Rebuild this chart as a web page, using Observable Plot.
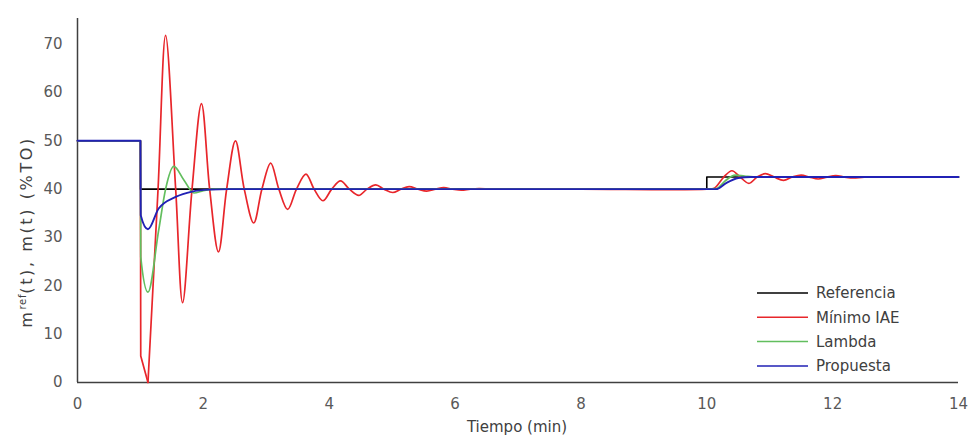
<!DOCTYPE html>
<html>
<head>
<meta charset="utf-8">
<script src="https://cdn.jsdelivr.net/npm/d3@7"></script>
<script src="https://cdn.jsdelivr.net/npm/@observablehq/plot@0.6"></script>
<style>
  html, body { margin: 0; padding: 0; background: #fff; }
  #chart { width: 970px; height: 437px; }
</style>
</head>
<body>
<div id="chart"></div>
<script>
// ---- Data ----
const xTicks = [0, 2, 4, 6, 8, 10, 12, 14];
const yTicks = [0, 10, 20, 30, 40, 50, 60, 70];
const seriesNames = ["Referencia", "Mínimo IAE", "Lambda", "Propuesta"];
const seriesColors = ["#000000", "#E8262B", "#62BE5E", "#2121B5"];

const refT = [0, 1, 1.0001, 10, 10.0001, 14];
const refV = [50, 50, 40, 40, 42.5, 42.5];

// Mínimo IAE: initial step (drawn straight) and oscillation (smooth)
const iaeStepT = [0, 1, 1.005, 1.12];
const iaeStepV = [50, 50, 5.5, 0];
const iaeT = [1.12, 1.28, 1.40, 1.56, 1.67, 1.82, 1.97, 2.10, 2.24, 2.37, 2.51, 2.65, 2.80, 2.93, 3.07, 3.20, 3.34, 3.48, 3.63, 3.76, 3.90, 4.04, 4.18, 4.32, 4.47, 4.60, 4.74, 4.87, 5.01, 5.14, 5.27, 5.41, 5.55, 5.69, 5.82, 5.96, 6.10, 6.24, 6.38, 6.60, 8.0, 10.0, 10.12, 10.27, 10.40, 10.53, 10.67, 10.80, 10.93, 11.07, 11.22, 11.36, 11.50, 11.63, 11.77, 11.91, 12.05, 12.19, 12.33, 12.50, 13.0, 14];
const iaeV = [0, 40, 71.8, 40, 16.5, 40, 57.7, 40, 27.0, 40, 50.0, 40, 33.0, 40, 45.4, 40, 35.8, 40, 43.1, 40, 37.6, 40, 41.7, 40, 38.7, 40, 40.9, 40, 39.3, 40, 40.5, 40, 39.6, 40, 40.3, 40, 39.8, 40, 40.1, 40, 40, 40, 40.2, 42.5, 43.8, 42.5, 41.2, 42.5, 43.2, 42.5, 41.8, 42.5, 42.9, 42.5, 42.1, 42.5, 42.8, 42.5, 42.3, 42.5, 42.5, 42.5];

const lamT = [0, 1, 1.005, 1.12, 1.29, 1.40, 1.53, 1.69, 1.85, 2.00, 2.20, 10.0, 10.15, 10.30, 10.45, 10.60, 10.80, 14];
const lamV = [50, 50, 26.0, 18.7, 31.5, 40.0, 44.7, 41.9, 39.2, 39.7, 40.0, 40.0, 40.1, 41.8, 42.9, 42.7, 42.5, 42.5];

const proT = [0, 1, 1.005, 1.12, 1.29, 1.56, 1.82, 2.10, 2.40, 10.15, 10.30, 10.50, 10.70, 14];
const proV = [50, 50, 34.6, 31.7, 36.0, 38.4, 39.5, 39.9, 40.0, 40.0, 41.2, 42.3, 42.5, 42.5];

const toRows = (T, V) => T.map((t, i) => ({t, v: V[i]}));
const refData = toRows(refT, refV);
const iaeStepData = toRows(iaeStepT, iaeStepV);
const iaeData = toRows(iaeT, iaeV);
const lamData = toRows(lamT, lamV);
const proData = toRows(proT, proV);

const font = "DejaVu Sans, sans-serif";

const chart = Plot.plot({
  width: 970,
  height: 437,
  marginLeft: 77,
  marginRight: 12,
  marginTop: 18,
  marginBottom: 55,
  style: {fontFamily: font, fontSize: "15px", color: "#595959", background: "#fff"},
  x: {domain: [0, 14], ticks: xTicks, tickSize: 0, tickPadding: 16, label: null},
  y: {domain: [0, 75.3], ticks: yTicks, tickSize: 0, tickPadding: 15, label: null},
  marks: [
    Plot.ruleX([0], {stroke: "#404040", strokeWidth: 1.5}),
    Plot.ruleY([0], {stroke: "#404040", strokeWidth: 1.5}),
    Plot.line(refData, {x: "t", y: "v", stroke: seriesColors[0], strokeWidth: 1.6}),
    Plot.line(iaeStepData, {x: "t", y: "v", stroke: seriesColors[1], strokeWidth: 1.7}),
    Plot.line(iaeData, {x: "t", y: "v", stroke: seriesColors[1], strokeWidth: 1.7, curve: "catmull-rom"}),
    Plot.line(lamData, {x: "t", y: "v", stroke: seriesColors[2], strokeWidth: 1.7, curve: "monotone-x"}),
    Plot.line(proData, {x: "t", y: "v", stroke: seriesColors[3], strokeWidth: 1.9, curve: "monotone-x"})
  ]
});
document.getElementById("chart").appendChild(chart);

const svg = d3.select(chart);

// x axis title
svg.append("text")
  .attr("x", 517).attr("y", 432)
  .attr("text-anchor", "middle")
  .attr("font-family", font).attr("font-size", 15)
  .attr("fill", "#404040")
  .text("Tiempo (min)");

// y axis title with superscript
const yl = svg.append("text")
  .attr("transform", "translate(32,232) rotate(-90)")
  .attr("text-anchor", "middle")
  .attr("font-family", font).attr("font-size", 16)
  .attr("letter-spacing", "2.6px")
  .attr("fill", "#404040");
yl.append("tspan").text("m");
yl.append("tspan").attr("font-size", 10).attr("dy", -6).attr("letter-spacing", "0.8px").text("ref");
yl.append("tspan").attr("dy", 6).text("(t), m(t) (%TO)");

// legend
const lg = svg.append("g");
seriesNames.forEach((name, i) => {
  const y = 293 + i * 24.3;
  lg.append("line")
    .attr("x1", 757).attr("x2", 808).attr("y1", y).attr("y2", y)
    .attr("stroke", seriesColors[i]).attr("stroke-width", 1.5);
  lg.append("text")
    .attr("x", 816).attr("y", y).attr("dy", "0.35em")
    .attr("text-anchor", "start")
    .attr("font-family", font).attr("font-size", 15)
    .attr("fill", "#404040")
    .text(name);
});
</script>
</body>
</html>
